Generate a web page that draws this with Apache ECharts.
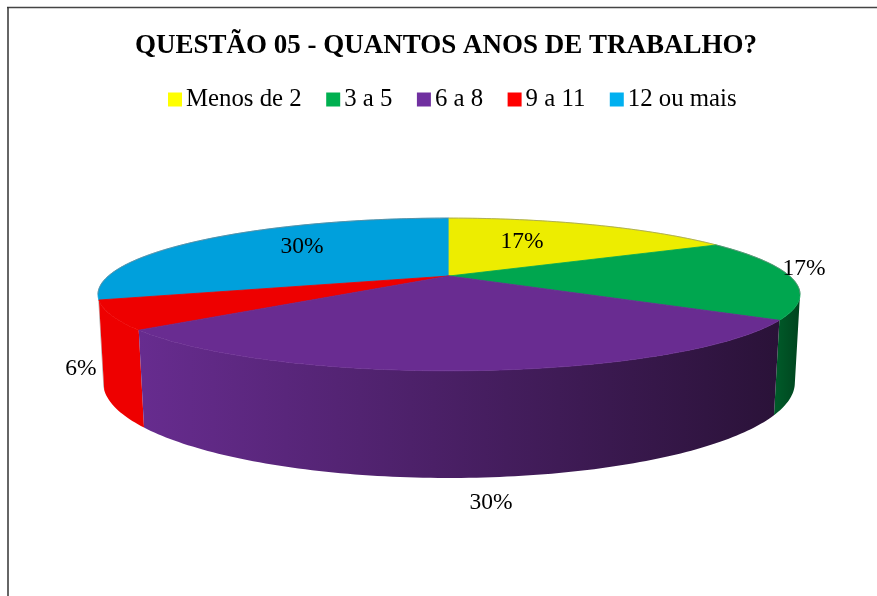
<!DOCTYPE html>
<html>
<head>
<meta charset="utf-8">
<style>html,body{margin:0;background:#fff}#main{width:877px;height:596px}</style>
<script src="https://cdn.jsdelivr.net/npm/echarts@6/dist/echarts.min.js"></script>
</head>
<body>
<div id="main"></div>
<script>
const categories = ["Menos de 2", "3 a 5", "6 a 8", "9 a 11", "12 ou mais"];
const values = [17, 17, 30, 6, 30];

const legendColors = ["#ffff00", "#00b050", "#7030a0", "#ff0000", "#00b0f0"];
const topColors = ["#eded00", "#00a64f", "#692c91", "#ee0000", "#00a0dc"];
// cor da lateral, esquerda -> direita
const wallColors = [
  ["#eded00", "#eded00"],
  ["#005c2a", "#00441e"],
  ["#672c8f", "#2a1238"],
  ["#ee0000", "#ee0000"],
  ["#a8a8a8", "#a8a8a8"],
];
const labelAt = [[522, 242], [804, 269], [491, 503], [81, 369], [302, 247]];

// perspectiva do disco: topo e base
const topDisc = { cx: 449, cy: 276, a: 340.6, b: 71.9, k: 0.2418 };
const baseDisc = { cx: 449, cy: 360, a: 336, b: 90, k: 0.237 };
const SERIF = "'Liberation Serif', serif";
// a lateral so aparece entre os extremos da elipse
const WALL_FROM = 104;
const WALL_TO = 256;

const total = values.reduce((s, v) => s + v, 0);

// angulo em graus a partir do topo, sentido horario
function project(disc, deg) {
  const t = (deg * Math.PI) / 180;
  const u = Math.sin(t);
  const v = Math.cos(t);
  const w = 1 + disc.k * v;
  return [disc.cx + (disc.a * u) / w, disc.cy - (disc.b * v) / w];
}

function arc(disc, from, to) {
  const pts = [];
  const n = Math.max(2, Math.ceil(Math.abs(to - from)));
  for (let i = 0; i <= n; i++) {
    pts.push(project(disc, from + ((to - from) * i) / n));
  }
  return pts;
}

function rimLine(from, to) {
  return {
    type: "polyline",
    shape: { points: arc(topDisc, from, to) },
    style: { fill: null, stroke: "rgba(130,130,130,0.6)", lineWidth: 1 },
  };
}

function renderSlice(index) {
  return function (params, api) {
    const from = api.value(0);
    const to = api.value(1);
    const children = [];

    const wallFrom = Math.max(from, WALL_FROM);
    const wallTo = Math.min(to, WALL_TO);
    if (wallTo > wallFrom) {
      const wall = arc(topDisc, wallFrom, wallTo).concat(
        arc(baseDisc, wallFrom, wallTo).reverse()
      );
      children.push({
        type: "polygon",
        shape: { points: wall },
        style: {
          fill: new echarts.graphic.LinearGradient(0, 0, 1, 0, [
            { offset: 0, color: wallColors[index][0] },
            { offset: 1, color: wallColors[index][1] },
          ]),
        },
      });
    }

    // stroke da mesma cor para nao deixar emenda com a lateral
    children.push({
      type: "polygon",
      shape: { points: [[topDisc.cx, topDisc.cy]].concat(arc(topDisc, from, to)) },
      style: { fill: topColors[index], stroke: topColors[index], lineWidth: 0.8 },
    });

    // borda cinza so na parte de tras
    if (from < WALL_FROM) children.push(rimLine(from, Math.min(to, WALL_FROM)));
    if (to > WALL_TO) children.push(rimLine(Math.max(from, WALL_TO), to));

    children.push({
      type: "text",
      z2: 50,
      style: {
        x: labelAt[index][0],
        y: labelAt[index][1],
        text: Math.round((100 * values[index]) / total) + "%",
        fill: "#000",
        font: "23.5px " + SERIF,
        align: "center",
        verticalAlign: "middle",
      },
    });
    return { type: "group", children };
  };
}

// fatias em ordem: fundo primeiro, frente por ultimo
let acc = 0;
const slices = values.map((v, i) => {
  const from = (acc / total) * 360;
  acc += v;
  return { index: i, from, to: (acc / total) * 360 };
});
const drawOrder = [4, 0, 1, 3, 2];

const chart = echarts.init(document.getElementById("main"), null, { renderer: "canvas" });
chart.setOption({
  animation: false,
  backgroundColor: "#fff",
  title: {
    text: "QUESTÃO 05 - QUANTOS ANOS DE TRABALHO?",
    left: 441,
    textAlign: "center",
    top: 28,
    textStyle: { fontFamily: SERIF, fontWeight: "bold", fontSize: 27, color: "#000" },
  },
  legend: {
    left: 168,
    top: 87,
    padding: 0,
    itemWidth: 14,
    itemHeight: 14,
    itemGap: 24.5,
    icon: "rect",
    selectedMode: false,
    textStyle: { fontFamily: SERIF, fontSize: 24.8, color: "#000", padding: [0, 0, 0, -1] },
    data: categories.map((name, i) => ({ name, itemStyle: { color: legendColors[i] } })),
  },
  graphic: [
    { type: "line", shape: { x1: 7, y1: 7.5, x2: 877, y2: 7.5 }, style: { stroke: "#444", lineWidth: 1.5 } },
    { type: "line", shape: { x1: 8, y1: 7, x2: 8, y2: 596 }, style: { stroke: "#333", lineWidth: 1.5 } },
  ],
  series: categories
    .map((name, i) => ({
      type: "custom",
      name,
      coordinateSystem: "none",
      silent: true,
      clip: false,
      z: 2 + drawOrder.indexOf(i),
      itemStyle: { color: legendColors[i] },
      renderItem: renderSlice(i),
      data: [[slices[i].from, slices[i].to]],
    })),
});
</script>
</body>
</html>
